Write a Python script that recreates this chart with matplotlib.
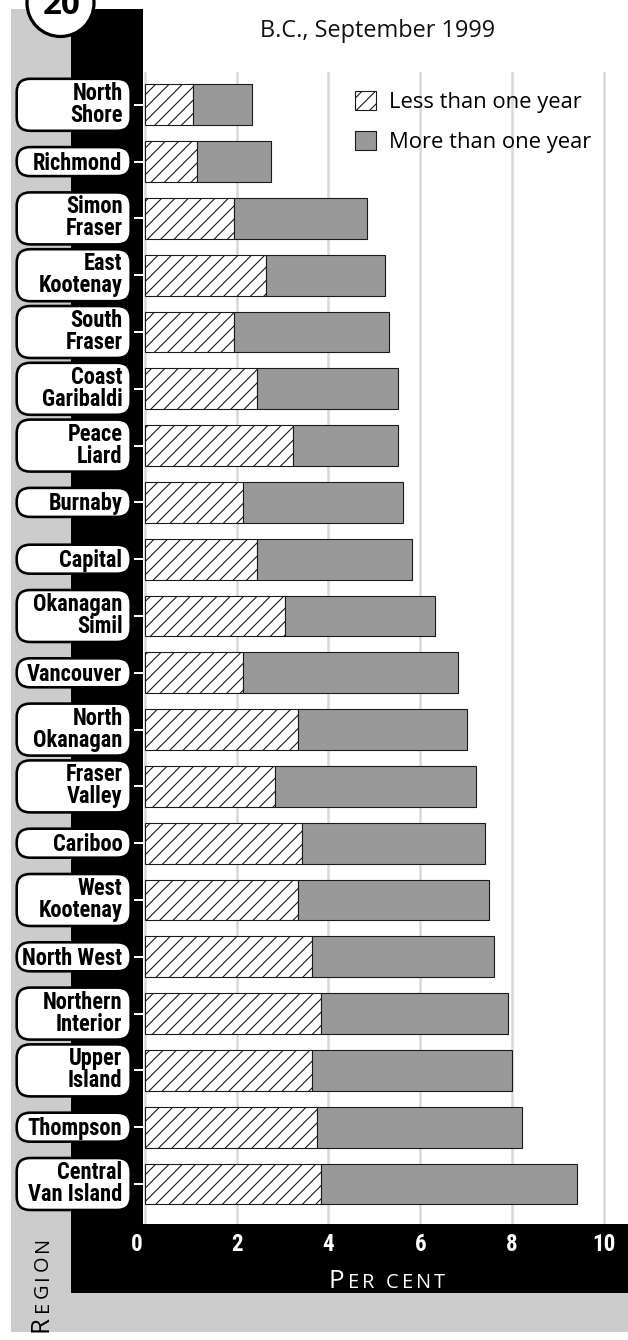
import matplotlib
matplotlib.use("Agg")
import matplotlib.pyplot as plt
from matplotlib import font_manager
from matplotlib.patches import Rectangle, FancyBboxPatch, Circle, Patch
from matplotlib.textpath import TextToPath
import matplotlib.transforms as mtransforms

# ---------------- data ----------------
regions = ["North\nShore", "Richmond", "Simon\nFraser", "East\nKootenay", "South\nFraser",
           "Coast\nGaribaldi", "Peace\nLiard", "Burnaby", "Capital", "Okanagan\nSimil",
           "Vancouver", "North\nOkanagan", "Fraser\nValley", "Cariboo", "West\nKootenay",
           "North West", "Northern\nInterior", "Upper\nIsland", "Thompson", "Central\nVan Island"]
less_than_one_year = [1.05, 1.14, 1.93, 2.64, 1.93, 2.44, 3.23, 2.14, 2.44, 3.05,
                      2.14, 3.34, 2.84, 3.43, 3.34, 3.64, 3.84, 3.64, 3.74, 3.84]
more_than_one_year = [1.29, 1.60, 2.90, 2.59, 3.40, 3.08, 2.29, 3.49, 3.39, 3.27,
                      4.68, 3.68, 4.38, 3.98, 4.17, 3.97, 4.07, 4.37, 4.47, 5.57]
series_labels = ["Less than one year", "More than one year"]
xticks = [0, 2, 4, 6, 8, 10]
xtick_labels = ["0", "2", "4", "6", "8", "10"]
title = "B.C., September 1999"
badge = "20"

# ---------------- fonts ----------------
names = {f.name for f in font_manager.fontManager.ttflist}
cond_family = next((n for n in ["Liberation Sans Narrow", "Roboto Condensed", "DejaVu Sans"]
                    if n in names), "DejaVu Sans")
COND = dict(family=cond_family, weight="bold")
if cond_family == "DejaVu Sans":
    COND["stretch"] = "condensed"
HUM = ["Open Sans", "DejaVu Sans"]

DPI = 80
W, H = 628, 1340


def pt(px):
    return px * 72.0 / DPI


plt.rcParams["hatch.linewidth"] = pt(1.1)
plt.rcParams["hatch.color"] = "black"

fig = plt.figure(figsize=(W / DPI, H / DPI), dpi=DPI, facecolor="white")

# full-figure pixel axes for the decorative frame
bg = fig.add_axes([0, 0, 1, 1], zorder=0)
bg.set_xlim(0, W)
bg.set_ylim(H, 0)
bg.axis("off")

bg.add_patch(Rectangle((11, 9), W - 11, 1332 - 9, fc="#cccccc", ec="none"))
bg.add_patch(Rectangle((71, 9), W - 71, 1293 - 9, fc="black", ec="none"))
bg.add_patch(Rectangle((143, 0), W - 143, 1224, fc="white", ec="none"))

# ---------------- main axes ----------------
AX_L, AX_R, AX_T, AX_B = 143, 628, 72, 1224
X0_PX, PX_PER_UNIT = 141.0, 46.25
C0, STEP = 104.8, 56.8

ax = fig.add_axes([AX_L / W, 1 - AX_B / H, (AX_R - AX_L) / W, (AX_B - AX_T) / H], zorder=1)
ax.set_facecolor("white")
ypos = list(range(len(regions)))

ax.barh(ypos, less_than_one_year, height=0.72, color="white", edgecolor="#1a1a1a",
        hatch="//", linewidth=pt(1.1), zorder=3)
ax.barh(ypos, more_than_one_year, left=less_than_one_year, height=0.72, color="#999999",
        edgecolor="#1a1a1a", linewidth=pt(1.1), zorder=3)

ax.set_xlim((AX_L - X0_PX) / -PX_PER_UNIT, (AX_R - X0_PX) / PX_PER_UNIT)
ax.set_ylim((AX_B - C0) / STEP, (AX_T - C0) / STEP)

for s in ax.spines.values():
    s.set_visible(False)

ax.set_xticks(xticks, labels=xtick_labels, color="white", fontsize=pt(23), **COND)
ax.tick_params(axis="x", length=0, pad=pt(9))
ax.xaxis.grid(True, color="#d9d9d9", linewidth=pt(2.5))
ax.set_axisbelow(True)

ax.set_yticks(ypos, labels=[""] * len(ypos))
ax.tick_params(axis="y", direction="out", length=pt(9), width=pt(2), color="white")

# nudge the "0" label left as in the original
t0 = ax.xaxis.get_major_ticks()[0].label1
t0.set_transform(t0.get_transform() +
                 mtransforms.ScaledTranslation(-8 / DPI, 0, fig.dpi_scale_trans))

# legend
handles = [Patch(fc="white", ec="#1a1a1a", hatch="//", lw=pt(1.1)),
           Patch(fc="#999999", ec="#1a1a1a", lw=pt(1.1))]
LFS = 22
ax.legend(handles, series_labels, loc="upper left",
          bbox_to_anchor=(355 / W, 1 - 91 / H), bbox_transform=fig.transFigure,
          frameon=False, borderpad=0, borderaxespad=0,
          handlelength=21 / LFS, handleheight=21 / LFS, handletextpad=13 / LFS,
          labelspacing=0.8, prop=font_manager.FontProperties(family=HUM, size=pt(LFS)))

# ---------------- region label boxes ----------------
BOX_L, BOX_R = 16.7, 130.7
TEXT_R = 122.5
LAB_FS = 22.5
for i, name in enumerate(regions):
    yc = H - ax.transData.transform((0, i))[1]
    two = "\n" in name
    h = 52 if two else 29
    bg.add_patch(FancyBboxPatch((BOX_L, yc - h / 2), BOX_R - BOX_L, h,
                                boxstyle="round,pad=0,rounding_size=13.5",
                                fc="white", ec="black", lw=pt(2.6), zorder=3))
    # va="baseline" anchors the last line's baseline
    bg.text(TEXT_R, yc + 17 if two else yc + 8, name, ha="right", va="baseline",
            multialignment="right", linespacing=0.94,
            fontsize=pt(LAB_FS), zorder=4, **COND)

# ---------------- title & badge ----------------
bg.text(378, 31, title, ha="center", va="center", fontsize=pt(23.5), family=HUM, color="#111111")
bg.add_patch(Circle((60.5, 3), 33.5, fc="white", ec="black", lw=pt(3.2), zorder=5))
bg.text(62, 14, badge, ha="center", va="baseline", fontsize=pt(33),
        family=HUM, weight="bold", zorder=6)

# ---------------- small-caps axis titles (tracked) ----------------
_ttp = TextToPath()


def advance_px(ch, size_px):
    fp = font_manager.FontProperties(family=HUM, size=size_px)
    w1 = _ttp.get_text_width_height_descent("H" + ch + "H", fp, ismath=False)[0]
    w0 = _ttp.get_text_width_height_descent("HH", fp, ismath=False)[0]
    return w1 - w0


def small_caps(x, y, first, rest, big, small, track, rotate=False, center=False, color="black"):
    chars = first + rest
    sizes = [big if k < len(first) else small for k in range(len(chars))]
    advs = [advance_px(c, s) + track for c, s in zip(chars, sizes)]
    total = sum(advs) - track
    pos = -total / 2 if center else 0.0
    for ch, size, a in zip(chars, sizes, advs):
        if rotate:
            bg.text(x, y - pos, ch, rotation=90, rotation_mode="anchor", ha="left",
                    va="baseline", fontsize=pt(size), family=HUM, color=color)
        else:
            bg.text(x + pos, y, ch, ha="left", va="baseline", fontsize=pt(size),
                    family=HUM, color=color)
        pos += a


small_caps(387, 1288, "P", "ER CENT", 26, 20, 3.2, center=True, color="white")
small_caps(48, 1332, "R", "EGION", 26, 20, 3.5, rotate=True, color="black")

fig.savefig("out.png", dpi=DPI, facecolor="white")
